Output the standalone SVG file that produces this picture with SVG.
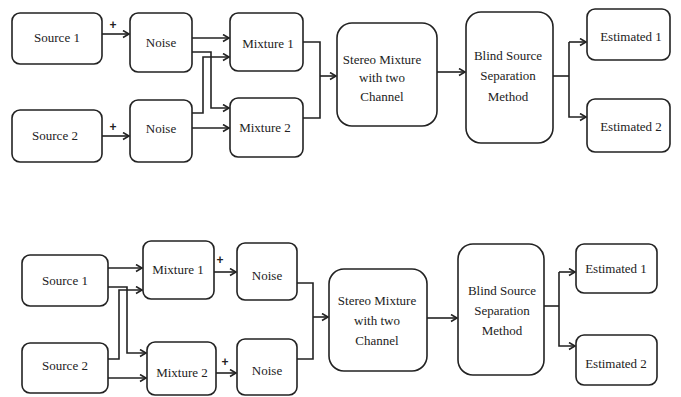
<svg xmlns="http://www.w3.org/2000/svg" width="681" height="397" viewBox="0 0 681 397">
<style>
.box{fill:#fff;stroke:#222;stroke-width:1.6}
.ln{fill:none;stroke:#222;stroke-width:1.6}
.ar{fill:none;stroke:#222;stroke-width:1.6;marker-end:url(#ah)}
text{font-family:"Liberation Serif","Times New Roman",serif;font-size:13px;fill:#222;text-anchor:middle}
.pl{font-family:"Liberation Sans",Arial,sans-serif;font-size:12px;font-weight:bold}
</style>
<defs>
<marker id="ah" markerWidth="10" markerHeight="10" refX="7" refY="4" orient="auto" markerUnits="userSpaceOnUse">
<path d="M1,0.5 L7,4 L1,7.5" fill="none" stroke="#222" stroke-width="1.6"/>
</marker>
</defs>
<g id="connectors">
<path class="ar" d="M102,34 H129"/>
<path class="ar" d="M102,136 H129"/>
<path class="ar" d="M192,38 H229"/>
<path class="ar" d="M192,52 H211 V108 H229"/>
<path class="ar" d="M192,113 H203 V57 H229"/>
<path class="ar" d="M192,128 H229"/>
<path class="ln" d="M303,42 H320 V118 H303"/>
<path class="ar" d="M320,76 H336"/>
<path class="ar" d="M437,72 H465"/>
<path class="ln" d="M553,76 H569"/>
<path class="ar" d="M569,42 V117 H586"/>
<path class="ar" d="M569,42 H586"/>
<path class="ar" d="M108,268 H142"/>
<path class="ar" d="M108,287 H127 V353 H146"/>
<path class="ar" d="M108,359 H119 V290 H142"/>
<path class="ar" d="M108,378 H146"/>
<path class="ar" d="M214,272 H236"/>
<path class="ar" d="M216,373 H236"/>
<path class="ln" d="M297,283 H313 V359 H297"/>
<path class="ar" d="M313,317 H328"/>
<path class="ar" d="M427,318 H457"/>
<path class="ln" d="M544,306 H559"/>
<path class="ar" d="M559,272 V346 H575"/>
<path class="ar" d="M559,272 H575"/>
<text class="pl" x="113" y="29">+</text>
<text class="pl" x="113" y="131">+</text>
<text class="pl" x="220" y="264">+</text>
<text class="pl" x="225" y="366">+</text>
</g>
<g id="t_source1"><rect class="box" x="12" y="13" width="90" height="51" rx="8"/><text x="57" y="42">Source 1</text></g>
<g id="t_noise1"><rect class="box" x="130" y="13" width="62" height="59" rx="8"/><text x="161" y="47">Noise</text></g>
<g id="t_mixture1"><rect class="box" x="230" y="13" width="73" height="58" rx="8"/><text x="268" y="48">Mixture  1</text></g>
<g id="t_source2"><rect class="box" x="12" y="110" width="90" height="52" rx="8"/><text x="55" y="140">Source 2</text></g>
<g id="t_noise2"><rect class="box" x="130" y="100" width="62" height="62" rx="8"/><text x="161" y="133">Noise</text></g>
<g id="t_mixture2"><rect class="box" x="230" y="98" width="73" height="59" rx="8"/><text x="265" y="132">Mixture  2</text></g>
<g id="t_stereo"><rect class="box" x="337" y="23" width="100" height="103" rx="15"/><text x="382" y="64">Stereo Mixture</text><text x="382" y="82">with two</text><text x="382" y="101">Channel</text></g>
<g id="t_bss"><rect class="box" x="466" y="12" width="87" height="131" rx="15"/><text x="508" y="60">Blind  Source</text><text x="508" y="80">Separation</text><text x="508" y="101">Method</text></g>
<g id="t_est1"><rect class="box" x="587" y="9" width="83" height="51" rx="8"/><text x="631" y="41">Estimated 1</text></g>
<g id="t_est2"><rect class="box" x="587" y="99" width="83" height="53" rx="8"/><text x="631" y="131">Estimated 2</text></g>
<g id="b_source1"><rect class="box" x="22" y="255" width="86" height="51" rx="8"/><text x="65" y="285">Source 1</text></g>
<g id="b_source2"><rect class="box" x="22" y="343" width="86" height="50" rx="8"/><text x="65" y="370">Source 2</text></g>
<g id="b_mixture1"><rect class="box" x="143" y="241" width="71" height="58" rx="8"/><text x="178" y="274">Mixture  1</text></g>
<g id="b_mixture2"><rect class="box" x="147" y="342" width="69" height="53" rx="8"/><text x="182" y="377">Mixture  2</text></g>
<g id="b_noise1"><rect class="box" x="237" y="243" width="60" height="57" rx="8"/><text x="267" y="280">Noise</text></g>
<g id="b_noise2"><rect class="box" x="237" y="339" width="60" height="56" rx="8"/><text x="267" y="375">Noise</text></g>
<g id="b_stereo"><rect class="box" x="329" y="269" width="98" height="102" rx="15"/><text x="377" y="305">Stereo Mixture</text><text x="377" y="325">with two</text><text x="377" y="345">Channel</text></g>
<g id="b_bss"><rect class="box" x="458" y="244" width="86" height="131" rx="15"/><text x="502" y="295">Blind  Source</text><text x="502" y="315">Separation</text><text x="502" y="335">Method</text></g>
<g id="b_est1"><rect class="box" x="576" y="244" width="81" height="49" rx="8"/><text x="616" y="273">Estimated 1</text></g>
<g id="b_est2"><rect class="box" x="576" y="335" width="81" height="50" rx="8"/><text x="616" y="368">Estimated 2</text></g>
</svg>
